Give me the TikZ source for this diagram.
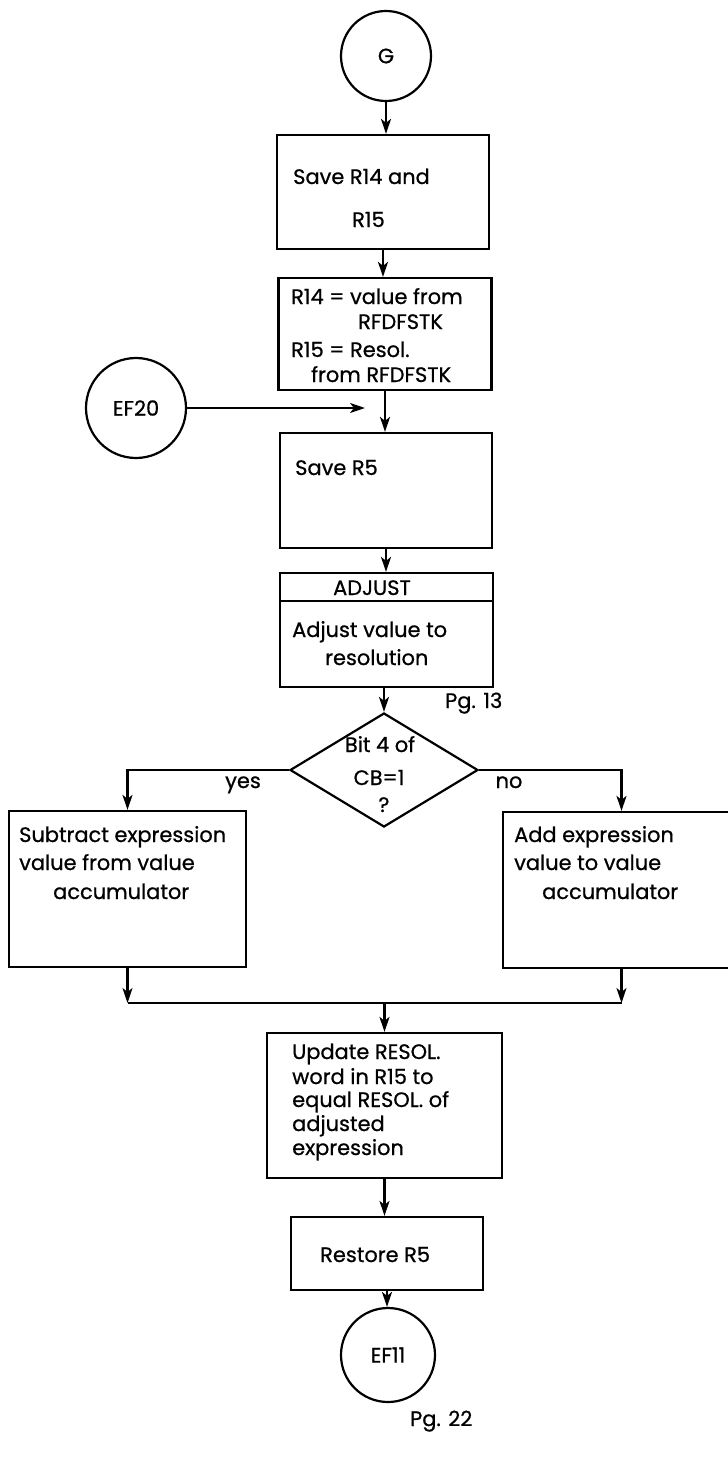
\documentclass[tikz,border=0pt]{standalone}
\usepackage{fontspec}
\setmainfont{Poppins}[FakeBold=0.7]
\usetikzlibrary{shapes.geometric,arrows.meta}
\begin{document}
\begin{tikzpicture}[x=1bp,y=-1bp,
  every node/.style={font=\fontsize{21}{24}\selectfont},
  box/.style={draw,line width=2.2bp,rectangle,inner sep=0pt},
  conn/.style={draw,line width=2.2bp,shape=circle,inner sep=0pt},
  dec/.style={draw,line width=2.2bp,shape=diamond,inner sep=0pt},
  txt/.style={anchor=base west,inner sep=0pt},
  ctxt/.style={anchor=base,inner sep=0pt},
  flow/.style={line width=2.2bp,-{Stealth[length=15bp,width=10bp,inset=4bp]}},
  line/.style={line width=2.2bp}]
\useasboundingbox (0,0) rectangle (728,1466);
\fill[white] (0,0) rectangle (728,1466);
\clip (0,0) rectangle (728,1466);

% nodes
\node[conn,minimum size=90bp] (G) at (386,56) {G};
\node[box,minimum width=212bp,minimum height=114bp] (b1) at (383,192) {};
\node[box,minimum width=213bp,minimum height=112bp] (b2) at (385,334) {};
\node[conn,minimum size=100bp] (EF20) at (136,408) {EF20};
\node[box,minimum width=212bp,minimum height=115bp] (b3) at (386,490.5) {};
\node[box,minimum width=213bp,minimum height=28bp] (adjh) at (386.5,587) {};
\node[box,minimum width=213bp,minimum height=86bp] (adjb) at (386.5,644) {};
\node[dec,minimum width=188bp,minimum height=114bp] (dec) at (384,770) {};
\node[box,minimum width=237bp,minimum height=156bp] (lb) at (127.5,889) {};
\node[box,minimum width=237bp,minimum height=156bp] (rb) at (621.5,890) {};
\node[box,minimum width=235bp,minimum height=145bp] (upd) at (384.5,1105.5) {};
\node[box,minimum width=192bp,minimum height=73bp] (rst) at (387,1253.5) {};
\node[conn,minimum size=94bp] (EF11) at (388,1355) {EF11};

% texts
\node[txt] (t1a) at (293,184) {Save R14 and};
\node[txt] (t1b) at (352,227) {R15};
\node[txt] (t2a) at (291,304) {R14 = value from};
\node[txt] (t2b) at (358,329) {RFDFSTK};
\node[txt] (t2c) at (291,357) {R15 = Resol.};
\node[txt] (t2d) at (311,382) {from RFDFSTK};
\node[txt] (t3a) at (295,475) {Save R5};
\node[ctxt] (tadj) at (372,595) {ADJUST};
\node[txt] (t4a) at (292,637) {Adjust value to};
\node[txt] (t4b) at (325,665) {resolution};
\node[txt] (pg13) at (445,708) {Pg. 13};
\node[ctxt] (d1) at (380,752) {Bit 4 of};
\node[ctxt] (d2) at (379,785) {CB=1};
\node[ctxt] (d3) at (384,812) {?};
\node[ctxt] (yes) at (243,788) {yes};
\node[ctxt] (no) at (509,788) {no};
\node[txt] (l1) at (19,842) {Subtract expression};
\node[txt] (l2) at (19,870) {value from value};
\node[txt] (l3) at (53,899) {accumulator};
\node[txt] (r1) at (514,842) {Add expression};
\node[txt] (r2) at (514,870) {value to value};
\node[txt] (r3) at (542,899) {accumulator};
\node[txt] (u1) at (292,1059) {Update RESOL.};
\node[txt] (u2) at (292,1084) {word in R15 to};
\node[txt] (u3) at (292,1107) {equal RESOL. of};
\node[txt] (u4) at (292,1131) {adjusted};
\node[txt] (u5) at (292,1155) {expression};
\node[txt] (rs) at (320,1262) {Restore R5};
\node[txt] (pg22) at (410,1426) {Pg. 22};

% coordinates
\coordinate (m20) at (365,408);
\coordinate (jL) at (127.5,1003);
\coordinate (jR) at (621.5,1003);

% connectors
\draw[flow] (G.south) -- (G.south |- b1.north);
\draw[flow] (b1.south) -- (b1.south |- b2.north);
\draw[flow] (b2.south) -- (b2.south |- b3.north);
\draw[flow] (EF20.east) -- (m20);
\draw[flow] (b3.south) -- (b3.south |- adjh.north);
\draw[flow] (adjb.south -| dec.north) -- (dec.north);
\draw[flow] (dec.west) -| (lb.north);
\draw[flow] (dec.east) -| (rb.north);
\draw[flow] (lb.south) -- (jL);
\draw[flow] (rb.south) -- (jR);
\draw[line] (jL) -- (jR);
\draw[flow] (upd.north |- jL) -- (upd.north);
\draw[flow] (upd.south) -- (upd.south |- rst.north);
\draw[flow] (rst.south) -- (rst.south |- EF11.north);
\end{tikzpicture}
\end{document}
